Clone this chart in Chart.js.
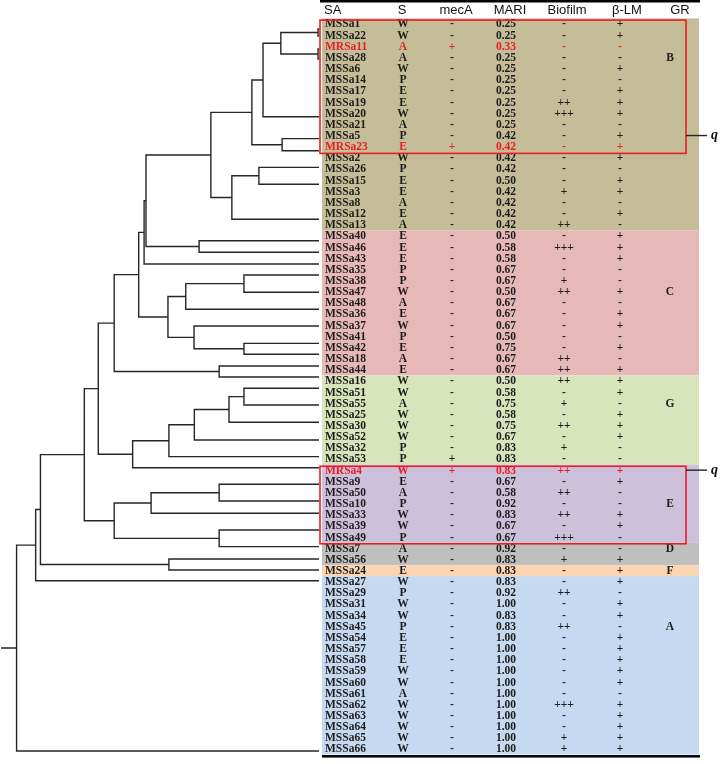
<!DOCTYPE html>
<html>
<head>
<meta charset="utf-8">
<script src="https://cdn.jsdelivr.net/npm/chart.js@4/dist/chart.umd.min.js"></script>
<style>
body { margin: 0; background: #fff; }
#wrap { width: 720px; height: 764px; }
</style>
</head>
<body>
<div id="wrap"><canvas id="myChart" width="720" height="764"></canvas></div>
<script>
// table columns, one entry per isolate (top to bottom)
const isolates = ['MSSa1','MSSa22','MRSa11','MSSa28','MSSa6','MSSa14','MSSa17','MSSa19','MSSa20','MSSa21',
  'MSSa5','MRSa23','MSSa2','MSSa26','MSSa15','MSSa3','MSSa8','MSSa12','MSSa13','MSSa40',
  'MSSa46','MSSa43','MSSa35','MSSa38','MSSa47','MSSa48','MSSa36','MSSa37','MSSa41','MSSa42',
  'MSSa18','MSSa44','MSSa16','MSSa51','MSSa55','MSSa25','MSSa30','MSSa52','MSSa32','MSSa53',
  'MRSa4','MSSa9','MSSa50','MSSa10','MSSa33','MSSa39','MSSa49','MSSa7','MSSa56','MSSa24',
  'MSSa27','MSSa29','MSSa31','MSSa34','MSSa45','MSSa54','MSSa57','MSSa58','MSSa59','MSSa60',
  'MSSa61','MSSa62','MSSa63','MSSa64','MSSa65','MSSa66'];
const sources = ['W','W','A','A','W','P','E','E','W','A',
  'P','E','W','P','E','E','A','E','A','E',
  'E','E','P','P','W','A','E','W','P','E',
  'A','E','W','W','A','W','W','W','P','P',
  'W','E','A','P','W','W','P','A','W','E',
  'W','P','W','W','P','E','E','E','W','W',
  'A','W','W','W','W','W'];
const mecA = ['-','-','+','-','-','-','-','-','-','-',
  '-','+','-','-','-','-','-','-','-','-',
  '-','-','-','-','-','-','-','-','-','-',
  '-','-','-','-','-','-','-','-','-','+',
  '+','-','-','-','-','-','-','-','-','-',
  '-','-','-','-','-','-','-','-','-','-',
  '-','-','-','-','-','-'];
const mari = ['0.25','0.25','0.33','0.25','0.25','0.25','0.25','0.25','0.25','0.25',
  '0.42','0.42','0.42','0.42','0.50','0.42','0.42','0.42','0.42','0.50',
  '0.58','0.58','0.67','0.67','0.50','0.67','0.67','0.67','0.50','0.75',
  '0.67','0.67','0.50','0.58','0.75','0.58','0.75','0.67','0.83','0.83',
  '0.83','0.67','0.58','0.92','0.83','0.67','0.67','0.92','0.83','0.83',
  '0.83','0.92','1.00','0.83','0.83','1.00','1.00','1.00','1.00','1.00',
  '1.00','1.00','1.00','1.00','1.00','1.00'];
const biofilm = ['-','-','-','-','-','-','-','++','+++','-',
  '-','-','-','-','-','+','-','-','++','-',
  '+++','-','-','+','++','-','-','-','-','-',
  '++','++','++','-','+','-','++','-','+','-',
  '++','-','++','-','++','-','+++','-','+','-',
  '-','++','-','-','++','-','-','-','-','-',
  '-','+++','-','-','+','+'];
const betaLM = ['+','+','-','-','+','-','+','+','+','-',
  '+','+','+','-','+','+','-','+','-','+',
  '+','+','-','-','+','-','+','+','-','+',
  '-','+','+','+','-','+','+','+','-','-',
  '+','+','-','-','+','+','-','-','+','+',
  '+','-','+','+','-','+','+','+','+','+',
  '-','+','+','+','+','+'];
const headers = ['SA','S','mecA','MARI','Biofilm','β-LM','GR'];
const mrsaRows = [2, 11, 40];

// cluster groups: last row of each band and row where its letter sits
const groupNames = ['B','C','G','E','D','F','A'];
const groupLastRow = [18, 31, 39, 46, 48, 49, 65];
const groupLabelRow = [3, 24, 34, 43, 47, 49, 54];
const boxedRows = [[0, 11], [40, 46]];
const qRows = [10, 40];

// dendrogram: leaf positions (in rows) and merges [childA, childB, height]
const leafPos = [0.45, 1.08, 2.24, 3.14, 8.31, 10.28, 11.36, 12.85, 14.37, 17.51,
  19.43, 20.47, 21.52, 22.50, 24.05, 25.58, 27.08, 28.63, 29.61, 30.66,
  31.65, 32.66, 34.16, 35.71, 37.30, 38.79, 39.78, 41.27, 42.77, 43.87,
  45.37, 46.86, 47.96, 48.95, 49.91, 65.18];
const merges = [
  [0, 1, 0.003], [2, 3, 0.003], [36, 37, 0.12], [38, 4, 0.176], [5, 6, 0.116],
  [39, 40, 0.211], [7, 8, 0.189], [42, 9, 0.274], [41, 43, 0.340], [10, 11, 0.377],
  [44, 45, 0.544], [46, 12, 0.550], [13, 14, 0.236], [48, 15, 0.419], [17, 18, 0.236],
  [16, 50, 0.393], [49, 51, 0.475], [47, 52, 0.567], [19, 20, 0.314], [53, 54, 0.644],
  [21, 22, 0.236], [56, 23, 0.283], [57, 24, 0.392], [58, 25, 0.472], [59, 26, 0.586],
  [55, 60, 0.694], [27, 28, 0.314], [62, 29, 0.528], [30, 31, 0.314], [63, 64, 0.644],
  [61, 65, 0.738], [32, 33, 0.472], [66, 67, 0.876], [68, 34, 0.891], [69, 35, 0.951]
];
const rootLength = 1.0;

const groupColors = {B: '#c4bd97', C: '#e6b8b7', G: '#d7e4bc', E: '#ccc0da', D: '#bfbfbf', F: '#fcd5b4', A: '#c5d9f1'};
const textColor = '#1c1c1c';
const red = '#ec1c24';

// build the elbow lines of the tree
let nodeH = [], nodeY = [];
for (let i = 0; i < leafPos.length; i++) { nodeH.push(0); nodeY.push(leafPos[i]); }
let segments = [];
merges.forEach(m => {
  let [a, b, h] = m;
  segments.push({x: nodeH[a], y: nodeY[a]}, {x: h, y: nodeY[a]}, {x: h, y: nodeY[b]}, {x: nodeH[b], y: nodeY[b]}, {x: null, y: null});
  nodeH.push(h);
  nodeY.push((nodeY[a] + nodeY[b]) / 2);
});
let root = nodeH.length - 1;
segments.push({x: nodeH[root], y: nodeY[root]}, {x: rootLength, y: nodeY[root]});

const colX = {sa: 325, s: 403, mec: 452, mari: 506, bio: 564, blm: 620, gr: 670};
const headX = [324, 402, 456, 510, 567, 627, 680];

const tablePlugin = {
  id: 'tablePlugin',
  beforeDatasetsDraw(chart) {
    const c = chart.ctx, y = chart.scales.y;
    c.save();
    let first = 0;
    groupNames.forEach((g, i) => {
      let top = y.getPixelForValue(first - 0.5);
      let bot = y.getPixelForValue(groupLastRow[i] + 0.5);
      c.fillStyle = groupColors[g];
      c.fillRect(322, top, 377, bot - top);
      first = groupLastRow[i] + 1;
    });
    c.restore();
  },
  afterDatasetsDraw(chart) {
    const c = chart.ctx, y = chart.scales.y;
    c.save();
    // top and bottom rules
    c.fillStyle = '#000';
    c.fillRect(320, 0, 380, 2.5);
    c.fillRect(322, y.getPixelForValue(65.5) + 0.5, 378, 2.5);

    c.textBaseline = 'middle';
    c.font = '13px "Liberation Sans", Arial, sans-serif';
    c.fillStyle = '#111';
    headers.forEach((h, i) => {
      c.textAlign = i === 0 ? 'left' : 'center';
      c.fillText(h, headX[i], 10.5);
    });

    c.font = 'bold 11.5px "Liberation Serif", "Times New Roman", serif';
    isolates.forEach((name, i) => {
      let py = y.getPixelForValue(i) + 0.5;
      c.fillStyle = mrsaRows.includes(i) ? red : textColor;
      c.textAlign = 'left';
      c.fillText(name, colX.sa, py);
      c.textAlign = 'center';
      c.fillText(sources[i], colX.s, py);
      c.fillText(mecA[i], colX.mec, py);
      c.fillText(mari[i], colX.mari, py);
      c.fillText(biofilm[i], colX.bio, py);
      c.fillText(betaLM[i], colX.blm, py);
    });

    c.fillStyle = textColor;
    c.textAlign = 'center';
    groupNames.forEach((g, i) => {
      c.fillText(g, colX.gr, y.getPixelForValue(groupLabelRow[i]) + 0.5);
    });

    // red boxes around the MRSA clusters
    c.strokeStyle = red;
    c.lineWidth = 1.6;
    boxedRows.forEach(b => {
      let top = y.getPixelForValue(b[0] - 0.35);
      let bot = y.getPixelForValue(b[1] + 0.6);
      c.strokeRect(320, top, 366, bot - top);
    });

    c.strokeStyle = '#222';
    c.lineWidth = 1.4;
    c.fillStyle = '#111';
    c.font = 'bold italic 14px "Liberation Serif", serif';
    c.textAlign = 'left';
    qRows.forEach(r => {
      let py = y.getPixelForValue(r);
      c.beginPath();
      c.moveTo(686, py);
      c.lineTo(707, py);
      c.stroke();
      c.fillText('q', 711, py);
    });
    c.restore();
  }
};

const ctx = document.getElementById('myChart').getContext('2d');
const myChart = new Chart(ctx, {
  type: 'scatter',
  data: {
    datasets: [{
      data: segments,
      showLine: true,
      spanGaps: false,
      borderColor: '#262626',
      borderWidth: 1.4,
      pointRadius: 0,
      pointHoverRadius: 0
    }]
  },
  options: {
    responsive: false,
    animation: false,
    events: [],
    layout: {padding: {left: 1, right: 401, top: 0, bottom: 0}},
    plugins: {legend: {display: false}, tooltip: {enabled: false}},
    scales: {
      x: {type: 'linear', reverse: true, min: 0, max: rootLength, display: false},
      y: {type: 'linear', reverse: true, min: -2.152, max: 66.345, display: false}
    }
  },
  plugins: [tablePlugin]
});
</script>
</body>
</html>
